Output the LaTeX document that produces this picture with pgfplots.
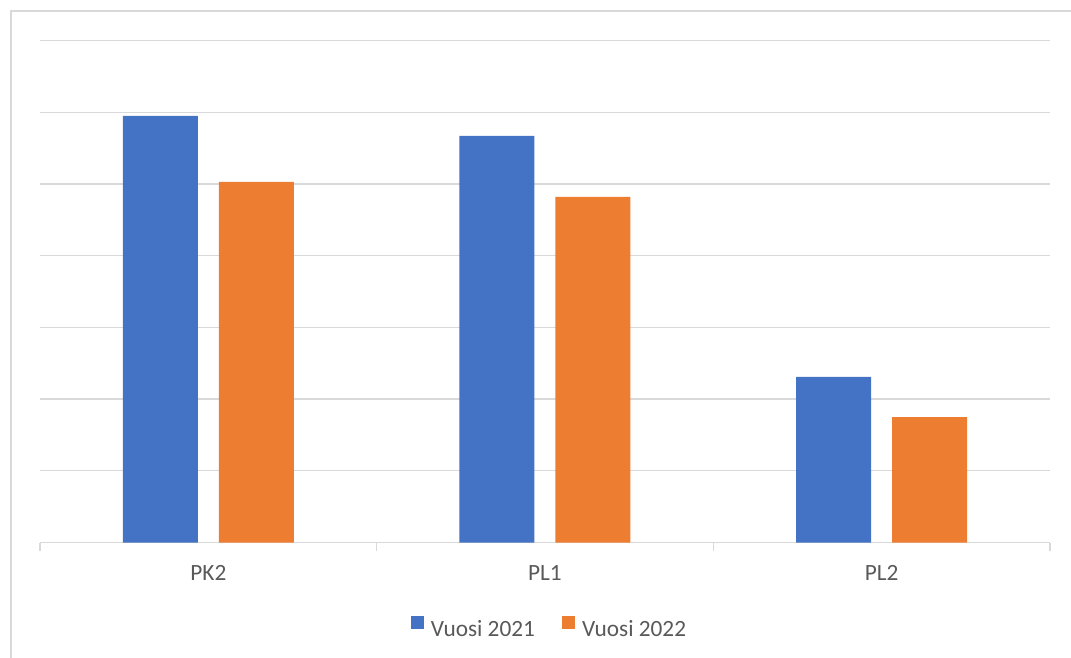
\documentclass[border=0pt]{standalone}
\usepackage{pgfplots}
\pgfplotsset{compat=1.18}
\usepackage{fontspec}
\setmainfont{Carlito}
\definecolor{barblue}{HTML}{4472C4}
\definecolor{barorange}{HTML}{ED7D31}
\definecolor{gridgray}{HTML}{D9D9D9}
\definecolor{textgray}{HTML}{595959}

\begin{document}
\begin{tikzpicture}[x=1pt,y=1pt]
\useasboundingbox (0,0) rectangle (1071,657);
% chart frame
\draw[gridgray,line width=1.5pt] (11,-5) -- (11,646) -- (1080,646);
\begin{axis}[
  at={(40pt,114.5pt)}, anchor=south west,
  scale only axis, width=1010pt, height=502pt,
  xmin=-0.5, xmax=2.5, ymin=0, ymax=7,
  axis x line*=bottom, axis y line*=left,
  x axis line style={gridgray, line width=1.3pt, -},
  y axis line style={draw=none},
  xtick={-0.5,0.5,1.5,2.5}, xticklabels={},
  extra x ticks={0,1,2}, extra x tick labels={PK2,PL1,PL2},
  extra x tick style={major tick length=0pt},
  xtick style={gridgray, line width=1.3pt},
  major tick length=8pt, tick align=outside,
  ytick={1,...,7}, yticklabels={}, ytick style={draw=none},
  ymajorgrids, grid style={gridgray, line width=1.3pt},
  xticklabel style={inner sep=0pt, anchor=north, text=textgray,
    font=\fontsize{23.3}{28}\selectfont},
  xticklabel shift=23pt,
  legend style={at={(0.5035,-0.168)}, anchor=center, draw=none, fill=none,
    legend columns=2, font=\fontsize{23.3}{28}\selectfont, text=textgray,
    nodes={inner sep=0pt},
    /tikz/every odd column/.append style={column sep=7pt},
    /tikz/every even column/.append style={column sep=27pt}},
  legend image code/.code={\fill[#1] (0pt,0pt) rectangle (13pt,13pt);},
]
\addplot[ybar, bar width=75pt, bar shift=-48pt, fill=barblue, draw=none]
  coordinates {(0,5.95) (1,5.67) (2,2.31)};
\addlegendentry{Vuosi 2021}
\addplot[ybar, bar width=75pt, bar shift=48pt, fill=barorange, draw=none]
  coordinates {(0,5.03) (1,4.82) (2,1.75)};
\addlegendentry{Vuosi 2022}
\end{axis}
\end{tikzpicture}
\end{document}
